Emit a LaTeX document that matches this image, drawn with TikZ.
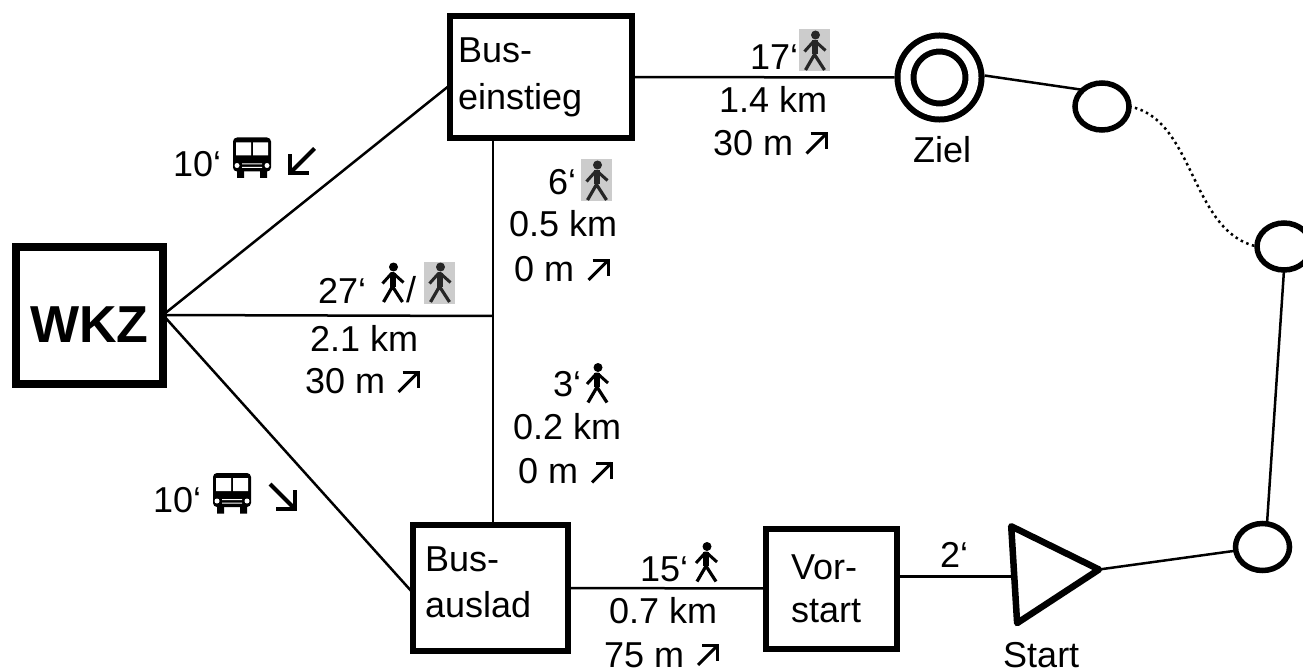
\documentclass[tikz,border=0pt]{standalone}
\usepackage{fontspec}
\setmainfont{Liberation Sans}
\usetikzlibrary{arrows,positioning,shapes.geometric}

\tikzset{
  walker/.pic={
    \fill (1,-15.5) circle (4.5pt);
    \draw[line width=3pt,line join=round] (-10,1) -- (-1,-9) -- (1,-9) -- (11,0);
    \draw[line width=6pt] (0,-10) -- (0,4);
    \draw[line width=3.2pt,line join=round] (-9,19.5) -- (0,4) -- (10,19.5);
  },
  greywalker/.pic={
    \fill[black!20] (-15.5,-21) rectangle (15.5,21);
    \pic[black!85] {walker};
  },
  coach/.pic={
    \fill[rounded corners=4pt] (-19,-20) rectangle (19,14);
    \fill (-15,12) rectangle (-8,20.5) (8,12) rectangle (15,20.5);
    \fill[white] (-16,-15) rectangle (-1,-2) (1,-15) rectangle (16,-2);
    \fill[white] (-15,8) circle (2.5pt) (15,8) circle (2.5pt);
    \fill[white] (-10,6) rectangle (10,7) (-10,9.5) rectangle (10,10.5);
  },
  upar/.pic={
    \draw[line width=3pt] (-10,10) -- (9.5,-9.5);
    \draw[line width=3pt] (-6,-9.5) -- (9.5,-9.5) -- (9.5,6);
  },
  fatar/.pic={
    \draw[line width=4pt] (-13,13) -- (12,-12);
    \draw[line width=4pt] (-7,-12) -- (12,-12) -- (12,7);
  },
  lab/.style={anchor=base west,inner sep=0pt,font=\fontsize{36}{44}\selectfont},
  stopbox/.style={draw,line width=6pt,outer sep=0pt,inner sep=8pt,align=left,
    font=\fontsize{36}{46}\selectfont},
  wayp/.style={draw,ellipse,line width=5.5pt,outer sep=0pt,inner sep=0pt,
    minimum width=54pt,minimum height=47pt},
  road/.style={line width=2.5pt},
}

\begin{document}
\begin{tikzpicture}[x=1pt,y=-1pt]

  \useasboundingbox (0,0) rectangle (1303,671);

  \node[draw,line width=8pt,outer sep=0pt,minimum width=147pt,minimum height=137pt,
    text height=55pt,text depth=0pt,
    font=\fontsize{52}{60}\selectfont\bfseries] (wkz) at (89.5,315) {WKZ};
  \node[stopbox,minimum width=182pt,minimum height=122pt,text width=166pt,
    font=\fontsize{36}{47}\selectfont] (einstieg) at (541,77) {Bus-\\einstieg};
  \node[stopbox,minimum width=155pt,minimum height=126pt,text width=131pt,text depth=58pt] (auslad) at (490.5,588) {Bus-\\auslad};
  \node[stopbox,minimum width=131pt,minimum height=120pt,text width=80pt,
    font=\fontsize{36}{43}\selectfont] (vorstart) at (831,588.5) {Vor-\\start};

  \node[draw,circle,double,line width=6pt,double distance=10pt,minimum size=68pt,
    outer sep=11pt] (ziel) at (939.5,77.5) {};
  \node[wayp] (way_1) at (1102,106.5) {};
  \node[wayp] (way_2) at (1284,246.5) {};
  \node[wayp] (way_3) at (1262.5,547) {};
  \node[draw,isosceles triangle,isosceles triangle stretches,rotate=3.5,
    line width=6.5pt,line join=round,outer sep=0pt,
    inner sep=0pt,minimum width=97pt,minimum height=85pt,anchor=apex] (start) at (1099,569.5) {};

  \coordinate (cross) at (493,316);

  \path[road] (wkz.east) edge ([yshift=-8pt]einstieg.west)
        (wkz.east) edge (cross)
        (wkz.east) edge ([yshift=-5pt]auslad.west)
        (einstieg.south -| cross) edge (auslad.north -| cross)
        (einstieg.east) edge (ziel.west)
        ([yshift=2pt]ziel.east) edge (way_1.north west)
        (way_2.south) edge ([xshift=4.5pt]way_3.north)
        (way_3) edge (start.apex)
        (auslad.east) edge (vorstart.west)
        ([yshift=12pt]vorstart.east) edge ([yshift=12pt]vorstart.east -| start.lower side);
  \draw[line width=2.5pt,dash pattern=on 2.5pt off 3.5pt] (way_1.east) .. controls (1195,118) and (1190,232) .. (way_2.west);

  % top leg
  \node[lab] (t_ziel) at (750,70) {17‘};
  \pic at (814.5,50.5) {greywalker};
  \node[lab] (d_ziel) at (719,113) {1.4 km};
  \node[lab] (h_ziel) at (713,156) {30 m};
  \pic at (816.5,143.5) {upar};
  \node[lab] (l_ziel) at (913,163) {Ziel};

  % bus up
  \node[lab] (t_up) at (173,177) {10‘};
  \pic at (252,157.5) {coach};
  \pic[rotate=180] at (301.5,161.5) {fatar};

  % bus down
  \node[lab] (t_down) at (153,512) {10‘};
  \pic at (232,493) {coach};
  \pic[rotate=-90] at (283,497) {fatar};

  % middle leg
  \node[lab] (t_mid) at (318,303) {27‘};
  \pic at (392.5,282.5) {walker};
  \node[lab] (slash) at (406,302) {/};
  \pic at (439.5,282.5) {greywalker};
  \node[lab] (d_mid) at (310,351) {2.1 km};
  \node[lab] (h_mid) at (305,393) {30 m};
  \pic at (408.5,382) {upar};

  % upper part of the bus line
  \node[lab] (t_a) at (548,194) {6‘};
  \pic at (596.5,180.5) {greywalker};
  \node[lab] (d_a) at (509,236) {0.5 km};
  \node[lab] (h_a) at (514,281) {0 m};
  \pic at (598.5,270) {upar};

  % lower part of the bus line
  \node[lab] (t_b) at (553,396) {3‘};
  \pic at (597,383) {walker};
  \node[lab] (d_b) at (513,439) {0.2 km};
  \node[lab] (h_b) at (518,483) {0 m};
  \pic at (602,472.5) {upar};

  % way to the start
  \node[lab] (t_c) at (640,581) {15‘};
  \pic at (706,562) {walker};
  \node[lab] (d_c) at (609,623) {0.7 km};
  \node[lab] (h_c) at (604,667) {75 m};
  \pic at (708,655) {upar};
  \node[lab] (t_d) at (940,567) {2‘};
  \node[lab] (l_start) at (1003,667) {Start};

\end{tikzpicture}
\end{document}
